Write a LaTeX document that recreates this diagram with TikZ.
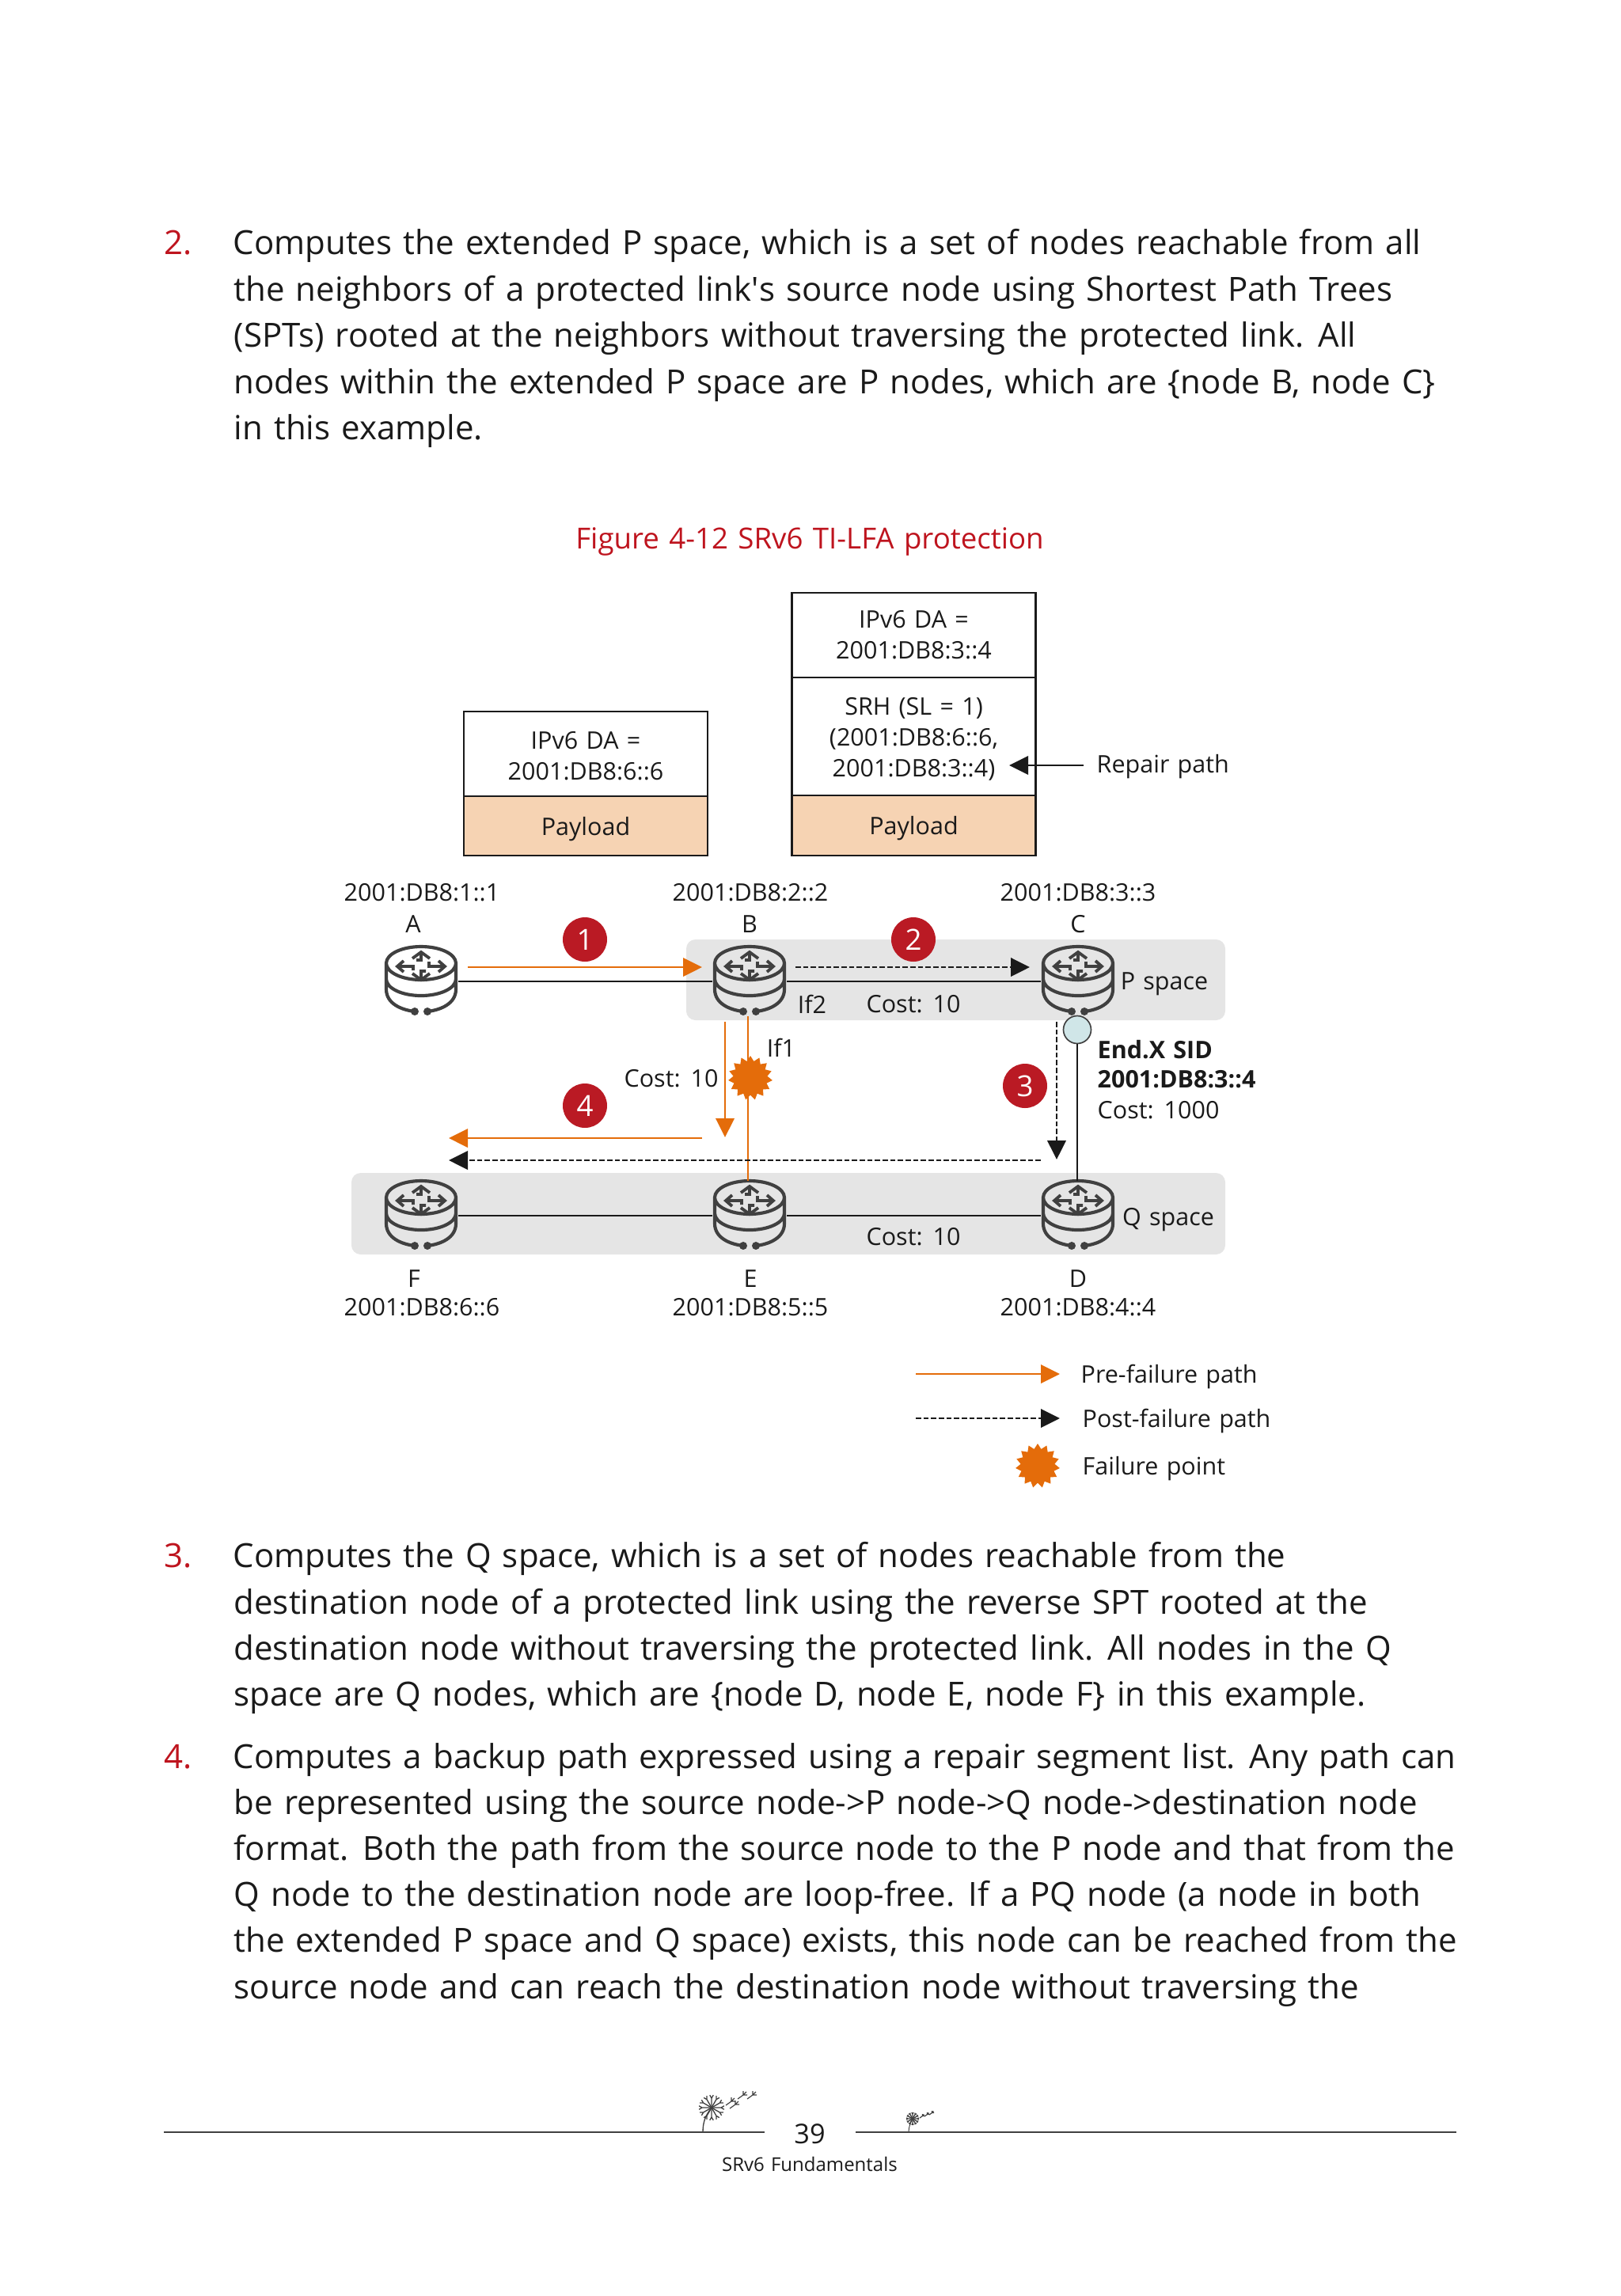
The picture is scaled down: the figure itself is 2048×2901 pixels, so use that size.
\documentclass[tikz,border=0pt]{standalone}
\usepackage{fontspec}
\setmainfont[WordSpace=1.3]{Open Sans}
\usetikzlibrary{shapes.geometric, arrows.meta, positioning, calc}
\definecolor{hwRed}   {RGB}{190, 20,  30}
\definecolor{hwBadge} {RGB}{186, 26,  36}
\definecolor{hwOrange}{RGB}{228, 108, 10}
\definecolor{hwPeach} {RGB}{246, 211, 179}
\definecolor{hwGray}  {RGB}{229, 229, 229}
\definecolor{hwIcon}  {RGB}{64,  64,  64}
\definecolor{hwInk}   {RGB}{26,  26,  26}
\definecolor{hwSid}   {RGB}{208, 230, 232}

\begin{document}
\begin{tikzpicture}[
  x=0.3pt, y=-0.3pt,
  bodyline/.style = {anchor=base west, inner sep=0pt, font=\fontsize{12.6}{15}\selectfont, text=hwInk},
  lbl/.style = {inner sep=0pt, font=\fontsize{9.15}{11.7}\selectfont, text=hwInk, align=center},
  lblw/.style = {lbl, anchor=west, align=left},
  cell/.style = {draw=hwInk, line width=0.65pt, outer sep=0pt, inner sep=0pt, minimum width=92.4pt,
    font=\fontsize{9.15}{11.7}\selectfont, text=hwInk, align=center},
  paycell/.style = {cell, fill=hwPeach, text height=8pt, text depth=1.1pt},
  spacebox/.style = {fill=hwGray, rounded corners=3.5pt, inner sep=0pt, outer sep=0pt},
  routernode/.style = {inner sep=0pt, outer sep=0pt, minimum width=28.2pt, minimum height=26.4pt},
  badge/.style = {circle, fill=hwBadge, inner sep=0pt, minimum size=16.8pt, text=white,
    font=\fontsize{11}{12}\selectfont},
  failstar/.style = {star, star points=15, star point ratio=1.3, fill=hwOrange, inner sep=0pt, minimum size=16.8pt},
  link/.style = {draw=hwInk, line width=0.75pt},
  prepath/.style = {-{Triangle[length=7.2pt,width=7pt]}, hwOrange, line width=0.75pt},
  postpath/.style = {-{Triangle[length=7.2pt,width=7pt]}, hwInk, line width=0.8pt, dash pattern=on 2pt off 0.9pt},
  router/.pic = {
    \draw[hwIcon, line width=1.25pt, line cap=round, line join=round]
      (0,-23) ellipse [x radius=44, y radius=21]
      (-44,-23) -- (-44,10) .. controls (-44,28) and (-25,36) .. (-8,38)
      (44,-23) -- (44,10) .. controls (44,28) and (25,36) .. (8,38)
      (-44,-3) arc [start angle=180, end angle=360, x radius=44, y radius=-21];
    \fill[hwIcon] (-8,38) circle [radius=1.5pt] (8,38) circle [radius=1.5pt];
    \draw[hwIcon, line width=1.15pt, line join=miter]
      (-11,-29) -- (0,-37) -- (11,-29) (0,-37) -- (0,-27) -- (-6,-27)
      (-11,-10) -- (0,-2) -- (11,-10) (0,-2) -- (0,-13) -- (6,-13)
      (-22,-26) -- (-30,-19) -- (-22,-12) (-30,-19) -- (-10,-19) -- (-10,-14)
      (22,-26) -- (30,-19) -- (22,-12) (30,-19) -- (10,-19) -- (10,-25);
  },
  dandelion/.pic = {
    \foreach \ang in {0,30,...,330}
      \draw[hwIcon, line width=0.4pt] (0,0) -- (\ang:12) (\ang-8:16) -- (\ang:12) -- (\ang+8:16);
  },
  seed/.pic = {
    \draw[hwIcon, line width=0.35pt] (0,0) -- (7,-5) (7,-5) -- (7,-10) (7,-5) -- (12,-5) (7,-5) -- (11,-9);
  }
]
  \useasboundingbox (0,0) rectangle (2048,2901);

  % Page text above the figure
  \node[bodyline, text=hwRed] (n2) at (207,321.5) {2.};
  \node[bodyline] (t21) at (294,321.5) {Computes the extended P space, which is a set of nodes reachable from all};
  \node[bodyline] (t22) at (295,380) {the neighbors of a protected link\textquotesingle s source node using Shortest Path Trees};
  \node[bodyline] (t23) at (295,438.5) {(SPTs) rooted at the neighbors without traversing the protected link. All};
  \node[bodyline] (t24) at (295,497) {nodes within the extended P space are P nodes, which are \{node B, node C\}};
  \node[bodyline] (t25) at (295,555) {in this example.};

  \node[lbl, text=hwRed, font=\fontsize{11}{13}\selectfont] (caption) at (1023,684) {Figure 4-12 SRv6 TI-LFA protection};

  % Packets
  \node[cell, minimum height=32.1pt] (ipv1) at (740,952.5) {\rule{0pt}{8pt}IPv6 DA =\\2001:DB8:6::6};
  \node[paycell, minimum height=22.5pt, below=0pt of ipv1] (pay1) {Payload};
  \node[cell, minimum height=32.1pt] (ipv2) at (1154.5,802.5) {IPv6 DA =\\2001:DB8:3::4};
  \node[cell, minimum height=44.7pt, below=0pt of ipv2] (srh) {\rule{0pt}{8.8pt}SRH (SL = 1)\\(2001:DB8:6::6,\\2001:DB8:3::4)};
  \node[paycell, minimum height=22.8pt, below=0pt of srh] (pay2) {Payload};
  \node[lblw] (repair) at (1385,969) {Repair path};
  \coordinate (repairtip) at (1275,967);
  \draw[-{Triangle[length=7.2pt,width=7pt]}, hwInk, line width=0.7pt] ([xshift=-4.8pt]repair.west |- repairtip) -- (repairtip);

  % P and Q space
  \node[spacebox, minimum width=204.3pt, minimum height=30.6pt] (pspace) at (1207.5,1238) {};
  \node[spacebox, minimum width=331.2pt, minimum height=30.9pt] (qspace) at (996,1533.5) {};

  % Routers
  \node[routernode] (a) at (532,1240) {};
  \node[routernode] (b) at (947,1240) {};
  \node[routernode] (c) at (1362,1240) {};
  \node[routernode] (f) at (532,1536) {};
  \node[routernode] (e) at (947,1536) {};
  \node[routernode] (d) at (1362,1536) {};
  \foreach \r in {a,b,c,d,e,f} \pic at (\r) {router};

  \node[circle, draw=hwIcon, fill=hwSid, line width=0.5pt, inner sep=0pt, outer sep=0pt, minimum size=10.5pt] (sid) at (1361,1301) {};

  % Links
  \draw[link] (a) -- (b);
  \draw[link] (b) -- (c);
  \draw[link] (f) -- (e);
  \draw[link] (e) -- (d);
  \draw[link] (sid) -- (d.north -| sid);
  \draw[hwOrange, line width=0.75pt] ([xshift=-0.6pt]b.south) -- ([xshift=-0.6pt]e.north);
  \node[failstar] (fail) at (948,1362) {};

  % Paths
  \coordinate (p1s) at (591,1222);
  \coordinate (p1e) at (887,1222);
  \draw[prepath] (p1s) -- (p1e);
  \coordinate (p2s) at (1005,1222);
  \coordinate (p2e) at (1301,1222);
  \draw[postpath] (p2s) -- (p2e);
  \coordinate (p3s) at (1335,1291);
  \coordinate (p3e) at (1335,1465);
  \draw[postpath] (p3s) -- (p3e);
  \coordinate (p4s) at (916,1291);
  \coordinate (p4e) at (916,1437);
  \draw[prepath] (p4s) -- (p4e);
  \coordinate (p5s) at (887,1438);
  \coordinate (p5e) at (567,1438);
  \draw[prepath] (p5s) -- (p5e);
  \coordinate (p6s) at (1315,1466);
  \coordinate (p6e) at (567,1466);
  \draw[postpath] (p6s) -- (p6e);

  \node[badge] (s1) at (739,1187) {1};
  \node[badge] (s2) at (1154,1187) {2};
  \node[badge] (s3) at (1295,1372) {3};
  \node[badge] (s4) at (739,1397) {4};

  % Labels
  \node[lbl] (addra) at (533,1128) {2001:DB8:1::1};
  \node[lbl] (addrb) at (948,1128) {2001:DB8:2::2};
  \node[lbl] (addrc) at (1362,1128) {2001:DB8:3::3};
  \node[lbl] (namea) at (522,1168) {A};
  \node[lbl] (nameb) at (947,1168) {B};
  \node[lbl] (namec) at (1362,1168) {C};
  \node[lbl] (namef) at (523,1616) {F};
  \node[lbl] (namee) at (948,1616) {E};
  \node[lbl] (named) at (1362,1616) {D};
  \node[lbl] (addrf) at (533,1652) {2001:DB8:6::6};
  \node[lbl] (addre) at (948,1652) {2001:DB8:5::5};
  \node[lbl] (addrd) at (1362,1652) {2001:DB8:4::4};
  \node[lbl] (if2) at (1026,1269) {If2};
  \node[lbl] (if1) at (987,1324) {If1};
  \node[lbl] (cbc) at (1154,1269) {Cost: 10};
  \node[lbl] (cbe) at (848,1363) {Cost: 10};
  \node[lbl] (ced) at (1154,1563) {Cost: 10};
  \node[lbl] (pname) at (1471,1243) {P space};
  \node[lbl] (qname) at (1476,1541) {Q space};
  \node[lblw] (sidname) at (1386,1326) {\textbf{End.X SID}};
  \node[lblw] (sidaddr) at (1386,1364) {\textbf{2001:DB8:3::4}};
  \node[lblw] (sidcost) at (1386,1403) {Cost: 1000};

  % Legend
  \node[lblw] (lgpre) at (1365,1739) {Pre-failure path};
  \node[lblw] (lgpost) at (1367,1795) {Post-failure path};
  \node[lblw] (lgfail) at (1367,1856) {Failure point};
  \coordinate (lg1s) at (1157,1736);
  \coordinate (lg1e) at (1339,1736);
  \draw[prepath] (lg1s) -- (lg1e);
  \coordinate (lg2s) at (1157,1792);
  \coordinate (lg2e) at (1339,1792);
  \draw[postpath] (lg2s) -- (lg2e);
  \node[failstar] (lgstar) at (1311,1852) {};

  % Page text below the figure
  \node[bodyline, text=hwRed] (n3) at (207,1980) {3.};
  \node[bodyline] (t31) at (294,1980) {Computes the Q space, which is a set of nodes reachable from the};
  \node[bodyline] (t32) at (295,2039) {destination node of a protected link using the reverse SPT rooted at the};
  \node[bodyline] (t33) at (295,2097) {destination node without traversing the protected link. All nodes in the Q};
  \node[bodyline] (t34) at (295,2155) {space are Q nodes, which are \{node D, node E, node F\} in this example.};
  \node[bodyline, text=hwRed] (n4) at (207,2234) {4.};
  \node[bodyline] (t41) at (294,2234) {Computes a backup path expressed using a repair segment list. Any path can};
  \node[bodyline] (t42) at (295,2292) {be represented using the source node->P node->Q node->destination node};
  \node[bodyline] (t43) at (295,2350) {format. Both the path from the source node to the P node and that from the};
  \node[bodyline] (t44) at (295,2408) {Q node to the destination node are loop-free. If a PQ node (a node in both};
  \node[bodyline] (t45) at (295,2466) {the extended P space and Q space) exists, this node can be reached from the};
  \node[bodyline] (t46) at (295,2525) {source node and can reach the destination node without traversing the};

  % Footer
  \node[lbl, font=\fontsize{10.3}{12}\selectfont] (page) at (1023,2696) {39};
  \node[lbl, font=\fontsize{7.2}{9}\selectfont] (book) at (1023,2734) {SRv6 Fundamentals};
  \coordinate (fl1) at (207,2694);
  \coordinate (fl2) at (966,2694);
  \coordinate (fl3) at (1081,2694);
  \coordinate (fl4) at (1840,2694);
  \draw[hwIcon, line width=0.6pt] (fl1) -- (fl2);
  \draw[hwIcon, line width=0.6pt] (fl3) -- (fl4);
  \pic at (899,2663) {dandelion};
  \draw[hwIcon, line width=0.4pt] (888,2694) .. controls (888,2680) and (892,2672) .. (899,2663);
  \pic at (917,2660) {seed};
  \pic at (922,2664) {seed};
  \pic at (932,2652) {seed};
  \pic at (944,2652) {seed};
  \pic[scale=0.5] at (1153,2677) {dandelion};
  \draw[hwIcon, line width=0.3pt] (1148,2694) .. controls (1148,2688) and (1150,2682) .. (1153,2677);
  \pic[scale=0.5] at (1162,2676) {seed};
  \pic[scale=0.5] at (1168,2674) {seed};
  \pic[scale=0.5] at (1174,2672) {seed};
\end{tikzpicture}
\end{document}
